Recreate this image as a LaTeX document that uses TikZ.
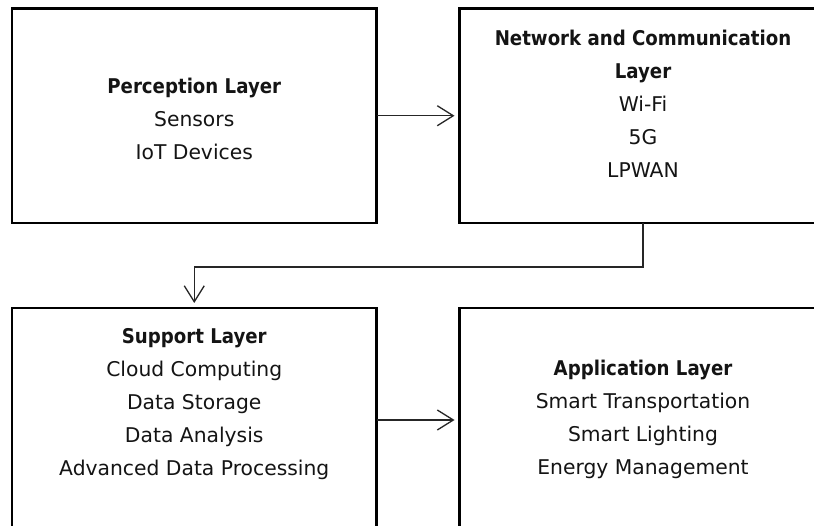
\documentclass[tikz,border=0pt]{standalone}
\usepackage{fontspec}
\setmainfont{DejaVu Sans}[BoldFeatures={FakeStretch=0.895}]
\usetikzlibrary{arrows.meta}
\begin{document}
\begin{tikzpicture}[x=1pt,y=-1pt,
  layerbox/.style={draw=black, line width=2.6pt, rectangle, inner sep=0pt, outer sep=0pt},
  layertext/.style={align=center, text=black!92, font=\fontsize{20.3}{33}\selectfont, inner sep=0pt},
  conn/.style={draw=black!85, line width=1.3pt, -{Straight Barb[length=16pt,width=20pt,line width=1.3pt]}, shorten >=5pt}]
\useasboundingbox (0,0) rectangle (814,526);
\fill[white] (0,0) rectangle (814,526);
\clip (0,0) rectangle (814,526);
% boxes
\node[layerbox, minimum width=364.5pt, minimum height=214.5pt] (tl) at (194.25,115.75) {};
\node[layerbox, minimum width=367pt, minimum height=214.5pt] (tr) at (643,115.75) {};
\node[layerbox, minimum width=364.5pt, minimum height=224pt] (bl) at (194.25,420) {};
\node[layerbox, minimum width=367pt, minimum height=224pt] (br) at (643,420) {};
% texts
\node[layertext] (tlt) at (194.25,119) {{\bfseries Perception Layer}\\Sensors\\IoT Devices};
\node[layertext] (trt) at (643,104) {{\bfseries Network and Communication}\\{\bfseries Layer}\\Wi-Fi\\5G\\LPWAN};
\node[layertext] (blt) at (194.25,404.5) {{\bfseries Support Layer}\\Cloud Computing\\Data Storage\\Data Analysis\\Advanced Data Processing};
\node[layertext] (brt) at (643,419) {{\bfseries Application Layer}\\Smart Transportation\\Smart Lighting\\Energy Management};
% connectors
\draw[conn] (tl.east) -- (tr.west);
\draw[conn] (bl.east) -- (br.west);
\draw[conn] (tr.south) -- ++(0,44) -| (bl.north);
\end{tikzpicture}
\end{document}
